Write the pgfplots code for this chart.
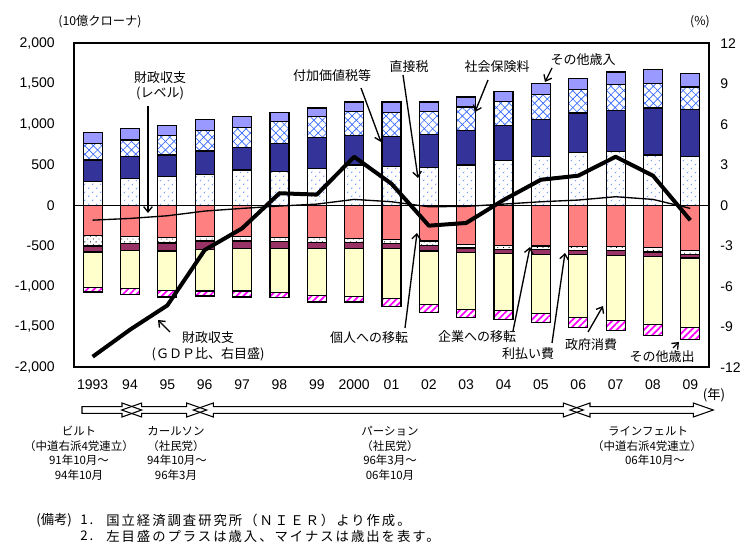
\documentclass[border=0pt]{standalone}
\usepackage{pgfplots}
\usepackage{pgfplotstable}
\pgfplotsset{compat=1.18}
\usetikzlibrary{patterns,patterns.meta,arrows.meta}
\usepackage{fontspec}
\setmainfont{Liberation Sans}
\newfontfamily\cjk{Noto Sans CJK JP}
\newfontfamily\cjknote[LetterSpace=15]{Noto Sans CJK JP}
\definecolor{othrev}{HTML}{9999FF}
\definecolor{vatc}{HTML}{333399}
\definecolor{dotblue}{HTML}{3366FF}
\definecolor{salm}{HTML}{FF8080}
\definecolor{maro}{HTML}{993366}
\definecolor{govc}{HTML}{FFFFCC}
\definecolor{mag}{HTML}{FF00FF}
\newcommand\tfont{\fontsize{10.5}{12}\selectfont}
\newcommand\jf{\cjk\fontsize{9.75}{11.5}\selectfont}
\newcommand\gf{\cjk\fontsize{8.6}{10}\selectfont}
\newcommand\nf{\cjknote\fontsize{10}{12}\selectfont}

% revenue (10 bn SEK): direct taxes, VAT etc., social security, other revenue
\pgfplotstableread{
x direct vat ssc other
0 292 269 206 132
1 334 268 206 137
2 354 269 235 132
3 384 288 248 136
4 437 276 248 136
5 416 343 272 120
6 458 384 255 104
7 499 363 297 116
8 478 371 302 124
9 466 404 289 116
10 499 425 289 124
11 552 434 297 120
12 602 454 310 140
13 651 488 288 141
14 664 507 322 154
15 623 578 301 174
16 602 578 281 165
}\rev
% expenditure: transfers to households, to firms, interest, gov. consumption, other
\pgfplotstableread{
x indiv firm intr gov other
0 -368 -132 -74 -441 -54
1 -388 -83 -82 -475 -74
2 -396 -67 -99 -487 -82
3 -380 -58 -103 -516 -62
4 -380 -58 -94 -525 -74
5 -396 -54 -82 -545 -62
6 -396 -62 -74 -578 -83
7 -409 -49 -74 -591 -70
8 -421 -50 -61 -619 -96
9 -438 -53 -71 -664 -91
10 -479 -46 -57 -706 -91
11 -491 -50 -53 -702 -112
12 -500 -45 -62 -730 -112
13 -512 -41 -54 -780 -124
14 -504 -49 -62 -805 -124
15 -520 -54 -54 -845 -133
16 -553 -50 -46 -854 -156
}\expd
% fiscal balance: level (left axis) and % of GDP (right axis)
\pgfplotstableread{
x level gdp
0 -182 -11.2
1 -161 -9.2
2 -128 -7.4
3 -70 -3.3
4 -37 -1.7
5 -8 0.9
6 16 0.8
7 74 3.6
8 45 1.6
9 -17 -1.5
10 -12 -1.3
11 16 0.4
12 45 1.9
13 66 2.2
14 107 3.6
15 74 2.2
16 -37 -1.1
}\bal

\begin{document}
\begin{tikzpicture}
\pgfplotsset{base/.style={at={(0pt,0pt)},anchor=south west,scale only axis,
  width=476.25pt,height=243.15pt,xmin=-0.5,xmax=16.5,
  tick style={draw=none}}}
% positive stack + frame + left axis
\begin{axis}[base, ybar stacked, bar width=14.25pt,
  ymin=-2000, ymax=2000, ytick={-2000,-1500,...,2000},
  yticklabels={{-2,000},{-1,500},{-1,000},-500,0,500,{1,000},{1,500},{2,000}},
  xtick={0,...,16},
  xticklabels={1993,94,95,96,97,98,99,2000,01,02,03,04,05,06,07,08,09},
  ytick pos=left, xtick pos=bottom,
  axis line style={line width=1.5pt},
  yticklabel style={xshift=-11pt,font=\tfont},
  xticklabel style={yshift=-6pt,font=\tfont},
  every axis plot/.append style={draw=black,line width=0.9pt}]
\addplot[fill=white,postaction={pattern={Dots[distance=4pt,angle=45,radius=0.5pt]},pattern color=dotblue}] table[x=x,y=direct]{\rev};
\addplot[fill=vatc] table[x=x,y=vat]{\rev};
\addplot[fill=white,postaction={pattern={Lines[angle=45,distance=4.5pt,line width=0.5pt]},pattern color=dotblue},postaction={pattern={Lines[angle=-45,distance=4.5pt,line width=0.5pt]},pattern color=dotblue}] table[x=x,y=ssc]{\rev};
\addplot[fill=othrev] table[x=x,y=other]{\rev};
\end{axis}
% negative stack
\begin{axis}[base, ybar stacked, bar width=14.25pt, ymin=-2000, ymax=2000, hide axis,
  every axis plot/.append style={draw=black,line width=0.9pt}]
\addplot[fill=salm] table[x=x,y=indiv]{\expd};
\addplot[fill=white,postaction={pattern={Dots[distance=3pt,angle=45,radius=0.45pt]},pattern color=black}] table[x=x,y=firm]{\expd};
\addplot[fill=maro] table[x=x,y=intr]{\expd};
\addplot[fill=govc] table[x=x,y=gov]{\expd};
\addplot[fill=white,postaction={pattern={Lines[angle=45,distance=3.6pt,line width=1.3pt]},pattern color=mag}] table[x=x,y=other]{\expd};
\end{axis}
% level line + zero line
\begin{axis}[base, ymin=-2000, ymax=2000, hide axis]
\addplot[black,line width=0.9pt] coordinates {(-0.5,0) (16.5,0)};
\addplot[black,line width=1pt,mark=none] table[x=x,y=level]{\bal};
\end{axis}
% right axis, GDP ratio
\begin{axis}[base, ymin=-12, ymax=12, axis y line*=right, axis x line=none,
  axis line style={line width=1.5pt},
  ytick={-12,-9,...,12}, yticklabels={-12,-9,-6,-3,0,3,6,9,12},
  yticklabel style={xshift=5pt,font=\tfont}]
\addplot[black,line width=3pt,line join=round,mark=none] table[x=x,y=gdp]{\bal};
\end{axis}

\begin{scope}[x=0.75pt,y=-0.75pt,shift={(-55.5pt,275.625pt)}]
\path (0,0) rectangle (753,553);
\tikzset{lab/.style={font=\jf,inner sep=0pt},
  ar/.style={line width=1pt,-{Straight Barb[length=4pt,width=6.5pt]}}}
\node[font=\cjk\fontsize{9.2}{11}\selectfont,inner sep=0] at (100,22) {(10億クローナ)};
\node[font=\cjk\fontsize{9.2}{11}\selectfont,inner sep=0] at (700,22) {(\%)};
\node[font=\cjk\fontsize{10}{11}\selectfont,inner sep=0] at (714,395) {(年)};
% annotations
\node[lab] at (160,78) {財政収支};
\node[lab] at (160,93) {(レベル)};
\draw[ar] (148,106) -- (148,213);
\node[lab] at (208,338) {財政収支};
\node[lab] at (208,354) {(ＧＤＰ比、右目盛)};
\draw[ar] (170,332) -- (158,320);
\node[lab] at (332,76) {付加価値税等};
\draw[ar] (361,88) -- (381,142);
\node[lab] at (409,67) {直接税};
\draw[ar] (403,75) -- (418,178);
\node[lab] at (497,67) {社会保険料};
\draw[ar] (488,80) -- (475,112);
\node[lab] at (583,60) {その他歳入};
\draw[ar] (552,68) -- (545,82);
\node[lab] at (369,338) {個人への移転};
\draw[ar] (405,328) -- (417,233);
\node[lab] at (477,337) {企業への移転};
\draw[ar] (513,331) -- (530,247);
\node[lab] at (528,354) {利払い費};
\draw[ar] (552,343) -- (565,253);
\node[lab] at (591,345) {政府消費};
\draw[ar] (588,332) -- (603,306);
\node[lab] at (662,357) {その他歳出};
\draw[ar] (673,348) -- (679,342);
% government timeline arrows
\draw[line width=0.8pt] (82,406.7) -- (122,406.7) -- (122,403) -- (141.7,410) -- (122,417) -- (122,413.3) -- (82,413.3) -- cycle;
\foreach \L/\R in {121.7/206.7, 193.3/583.3, 570/713.3}{
  \draw[line width=0.8pt] (\L,410) -- (\L+20,403) -- (\L+20,406.7) -- (\R-20,406.7) -- (\R-20,403) -- (\R,410) -- (\R-20,417) -- (\R-20,413.3) -- (\L+20,413.3) -- (\L+20,417) -- cycle;
}
\node[font=\gf] at (79,431) {ビルト};
\node[font=\gf] at (79,446) {（中道右派4党連立）};
\node[font=\gf] at (79,460.5) {91年10月～};
\node[font=\gf] at (79,475.5) {94年10月};
\node[font=\gf] at (176,431) {カールソン};
\node[font=\gf] at (176,446) {（社民党）};
\node[font=\gf] at (177,460.5) {94年10月～};
\node[font=\gf] at (176,475.5) {96年3月};
\node[font=\gf] at (390,431) {パーション};
\node[font=\gf] at (390,446) {（社民党）};
\node[font=\gf] at (390,460.5) {96年3月～};
\node[font=\gf] at (390,475.5) {06年10月};
\node[font=\gf] at (648,431) {ラインフェルト};
\node[font=\gf] at (647,446) {（中道右派4党連立）};
\node[font=\gf] at (655,460.5) {06年10月～};
% notes
\node[font=\cjk\fontsize{10}{12}\selectfont,anchor=west,inner sep=0] at (36,520) {(備考)};
\node[font=\nf,anchor=west,inner sep=0] at (80,520) {1.};
\node[font=\nf,anchor=west,inner sep=0] at (106,520) {国立経済調査研究所（ＮＩＥＲ）より作成。};
\node[font=\nf,anchor=west,inner sep=0] at (80,536) {2.};
\node[font=\nf,anchor=west,inner sep=0] at (106,536) {左目盛のプラスは歳入、マイナスは歳出を表す。};
\end{scope}
\end{tikzpicture}
\end{document}
